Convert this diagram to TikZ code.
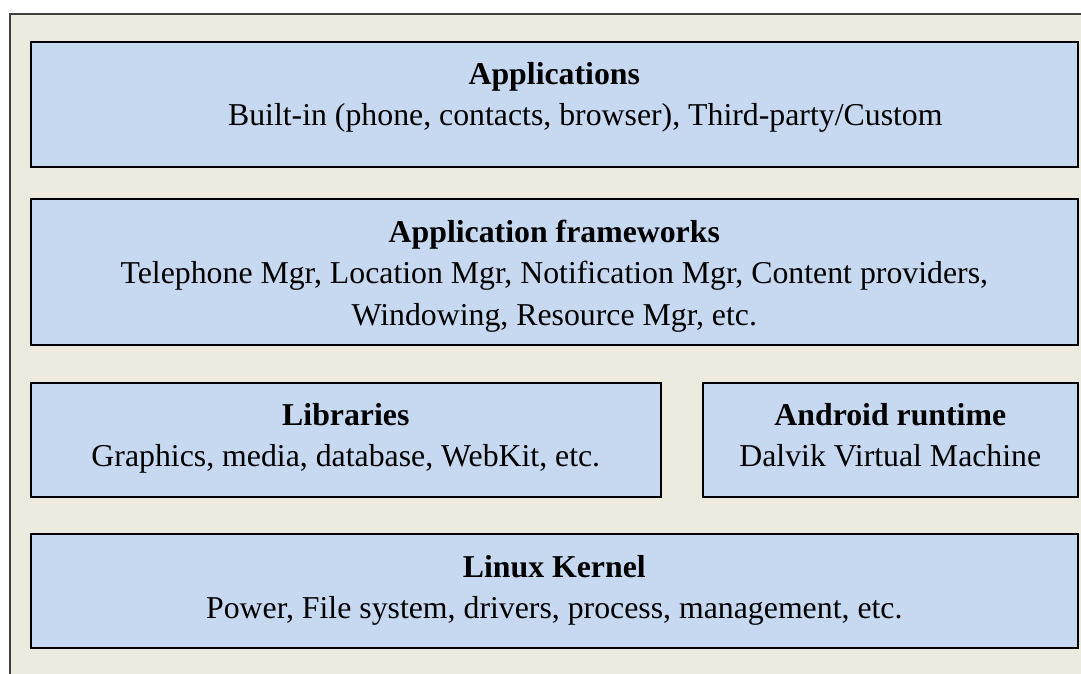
\documentclass[tikz,border=0pt]{standalone}
\usepackage{fontspec}
\setmainfont{Liberation Serif}
\usepackage{xcolor}
\usetikzlibrary{positioning}

\definecolor{panelbg}{HTML}{EDEAE0}
\definecolor{layerfill}{HTML}{C6D9F1}

\tikzset{
  layer/.style={draw=black, line width=1.6pt, fill=layerfill, anchor=north west, inner sep=0pt},
  ttl/.style={font=\fontsize{31.8}{42}\selectfont\bfseries, anchor=base, inner sep=0pt},
  body/.style={font=\fontsize{31.8}{42}\selectfont, anchor=base, align=center, inner sep=0pt}
}

\begin{document}
\begin{tikzpicture}[x=1pt, y=-1pt]
	\useasboundingbox (0,0) rectangle (1081,673);
	\begin{scope}
		\clip (0,0) rectangle (1081,673);
		\draw[fill=panelbg, draw=black!75, line width=1.4pt] (10,14) rectangle (1095,690);
	\end{scope}
	% the layers
	\node[layer, minimum width=1047pt, minimum height=125pt] (apps) at (30,41) {};
	\node[layer, minimum width=1047pt, minimum height=146pt] (fw) at (30,198) {};
	\node[layer, minimum width=630pt, minimum height=114pt] (libs) at (30,382) {};
	\node[layer, minimum width=375pt, minimum height=114pt] (rt) at (702,382) {};
	\node[layer, minimum width=1047pt, minimum height=114pt] (kern) at (30,533) {};
	% texts (base anchor sits on the last line)
	\node[ttl] (appsT) at (apps.north |- 0,84) {Applications};
	\node[body, xshift=31pt] (appsB) at (apps.north |- 0,125) {Built-in (phone, contacts, browser), Third-party/Custom};
	\node[ttl] (fwT) at (fw.north |- 0,242) {Application frameworks};
	\node[body] (fwB) at (fw.north |- 0,325) {Telephone Mgr, Location Mgr, Notification Mgr, Content providers,\\Windowing, Resource Mgr, etc.};
	\node[ttl] (libsT) at (libs.north |- 0,425) {Libraries};
	\node[body] (libsB) at (libs.north |- 0,466) {Graphics, media, database, WebKit, etc.};
	\node[ttl] (rtT) at (rt.north |- 0,425) {Android runtime};
	\node[body] (rtB) at (rt.north |- 0,466) {Dalvik Virtual Machine};
	\node[ttl] (kernT) at (kern.north |- 0,577) {Linux Kernel};
	\node[body] (kernB) at (kern.north |- 0,618) {Power, File system, drivers, process, management, etc.};
\end{tikzpicture}
\end{document}
